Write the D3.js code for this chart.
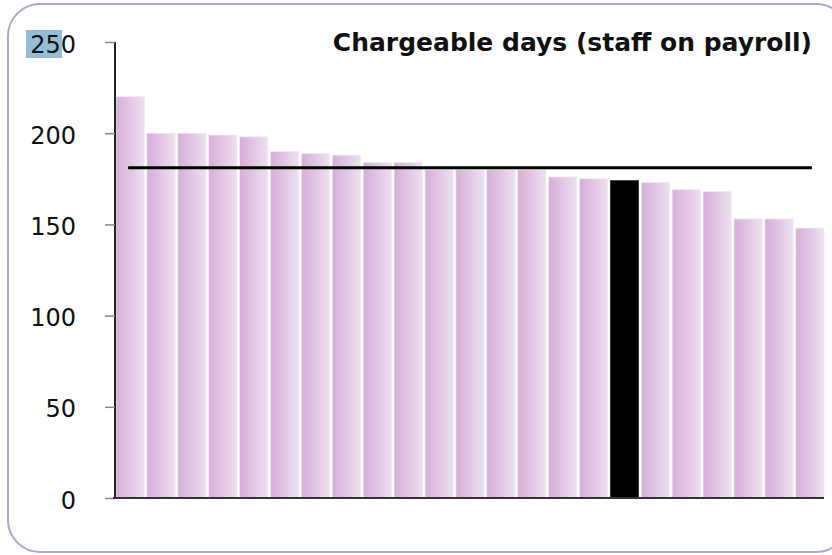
<!DOCTYPE html>
<html>
<head>
<meta charset="utf-8">
<script src="https://cdn.jsdelivr.net/npm/d3@7"></script>
<style>
  body { margin: 0; background: #fff; }
</style>
</head>
<body>
<div id="chart"></div>
<script>
var width = 832;
var height = 555;

// values, one bar per staff member
var staff = ["s1","s2","s3","s4","s5","s6","s7","s8","s9","s10","s11","s12",
             "s13","s14","s15","s16","s17","s18","s19","s20","s21","s22","s23"];
var days = [220, 200, 200, 199, 198, 190, 189, 188, 184, 184, 180, 180,
            180, 180, 176, 175, 174, 173, 169, 168, 153, 153, 148];
var highlighted = "s17";
var average = [181];
var yTicks = [0, 50, 100, 150, 200, 250];
var title = "Chargeable days (staff on payroll)";

var x = d3.scaleBand().domain(staff).range([116, 824]).paddingInner(0.085).paddingOuter(0);
var y = d3.scaleLinear().domain([0, 250]).range([498, 42]);

var svg = d3.select("#chart")
    .append("svg")
    .attr("width", width)
    .attr("height", height);

var defs = svg.append("defs");
var grad = defs.append("linearGradient")
    .attr("id", "barGrad")
    .attr("x1", "0%").attr("x2", "100%")
    .attr("y1", "0%").attr("y2", "0%");
grad.append("stop").attr("offset", "0%").attr("stop-color", "#d5aed8");
grad.append("stop").attr("offset", "100%").attr("stop-color", "#eee0f0");

// rounded frame
svg.append("rect")
    .attr("x", 8)
    .attr("y", 4)
    .attr("width", 840)
    .attr("height", 548)
    .attr("rx", 32)
    .attr("ry", 32)
    .attr("fill", "white")
    .attr("stroke", "#b9a2cc")
    .attr("stroke-width", 2);

// selection highlight behind "25"
svg.append("rect")
    .attr("x", 26)
    .attr("y", 30)
    .attr("width", 36)
    .attr("height", 28)
    .attr("fill", "#93bcd6");

svg.selectAll(".bar")
    .data(days)
    .enter().append("rect")
    .attr("class", "bar")
    .attr("x", function(d, i) { return x(staff[i]); })
    .attr("y", function(d) { return y(d); })
    .attr("width", x.bandwidth())
    .attr("height", function(d) { return y(0) - y(d); })
    .attr("fill", function(d, i) { return staff[i] === highlighted ? "#000" : "url(#barGrad)"; })
    .attr("stroke", function(d, i) { return staff[i] === highlighted ? "#333" : "#f3e8f4"; })
    .attr("stroke-width", 0.8);

// average line
var first = x(staff[0]) + x.bandwidth() / 2;
var last = x(staff[staff.length - 1]) + x.bandwidth() / 2;
svg.selectAll(".avg")
    .data(average)
    .enter().append("line")
    .attr("class", "avg")
    .attr("x1", first - 2)
    .attr("x2", last + 2)
    .attr("y1", function(d) { return y(d); })
    .attr("y2", function(d) { return y(d); })
    .attr("stroke", "#000")
    .attr("stroke-width", 3);

// y axis
var yAxis = d3.axisLeft(y).tickValues(yTicks).tickSize(10).tickPadding(29);
var gy = svg.append("g")
    .attr("transform", "translate(115, 0)")
    .call(yAxis);
gy.select(".domain").attr("stroke", "#222").attr("stroke-width", 2)
    .attr("d", "M0," + y(250) + "V" + y(0));
gy.selectAll(".tick line").attr("stroke", "#888").attr("stroke-width", 1.5);
gy.selectAll(".tick text")
    .attr("fill", "#111")
    .attr("dy", "0.42em")
    .style("font-family", "DejaVu Sans, Verdana, sans-serif")
    .style("font-size", "24px");

// x baseline
svg.append("line")
    .attr("x1", 113)
    .attr("x2", x.range()[1])
    .attr("y1", y(0))
    .attr("y2", y(0))
    .attr("stroke", "#333")
    .attr("stroke-width", 2);

svg.append("text")
    .attr("x", 812)
    .attr("y", 51)
    .attr("text-anchor", "end")
    .style("font-family", "DejaVu Sans, Verdana, sans-serif")
    .style("font-weight", "bold")
    .style("font-size", "25px")
    .attr("fill", "#111")
    .text(title);
</script>
</body>
</html>
